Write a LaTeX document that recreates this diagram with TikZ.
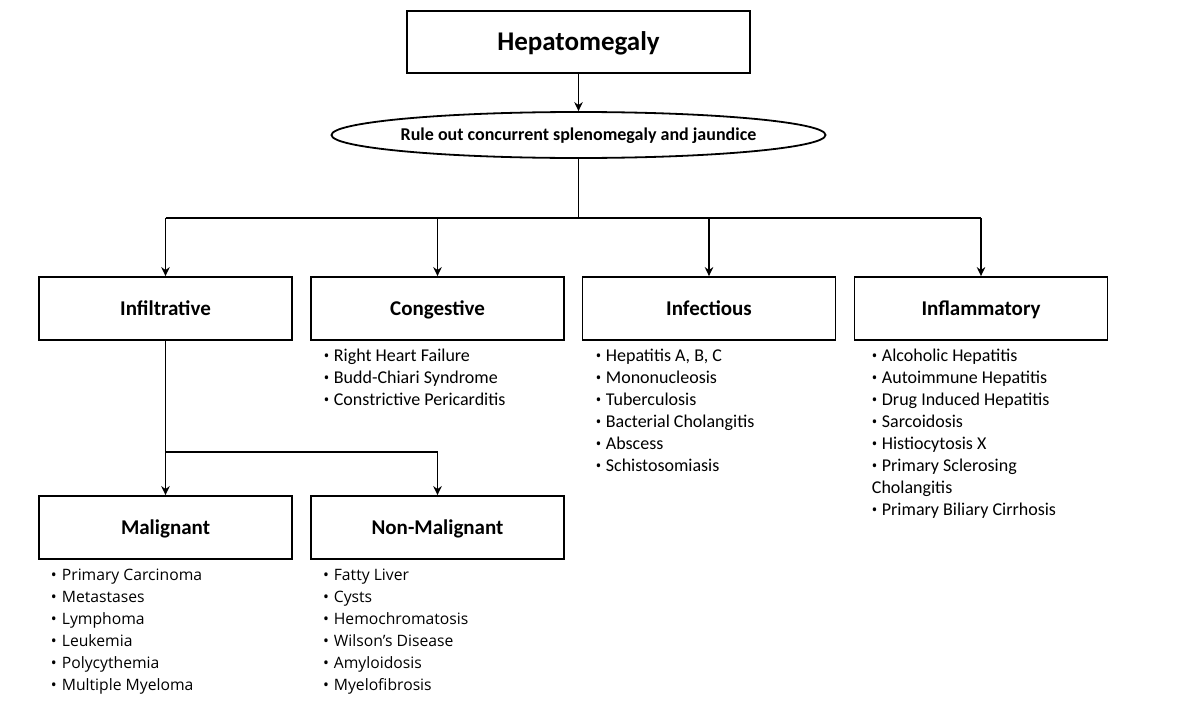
\documentclass[tikz,border=0pt]{standalone}
\usepackage{fontspec}
\setmainfont{Carlito}
\newfontfamily\lowfont{Open Sans}
\usetikzlibrary{shapes.geometric,arrows.meta}
\newcommand\mybul{\llap{{\lowfont\fontsize{15.7}{22}\selectfont •}\hspace{4.5pt}}}
\newcommand\mylowbul{\llap{•\hspace{5pt}}}
\begin{document}
\begin{tikzpicture}[x=1pt,y=-1pt,
  line width=1.8pt,
  catbox/.style={draw, line width=1.8pt, minimum width=253pt, minimum height=63pt, inner sep=0pt,
    font=\fontsize{21}{25}\selectfont\bfseries, text height=13.5pt, text depth=0pt},
  arr/.style={-{Stealth[length=9pt,width=8.5pt]}, line width=1.6pt},
  link/.style={line width=1.6pt},
  item/.style={anchor=base west, inner sep=0pt, font=\fontsize{18}{22}\selectfont},
  lowitem/.style={anchor=base west, inner sep=0pt, font=\lowfont\fontsize{15.7}{22}\selectfont},
]
\useasboundingbox (0,0) rectangle (1200,704);
\fill[white] (0,0) rectangle (1200,704);

\node[draw, line width=1.8pt, minimum width=343pt, minimum height=62pt, inner sep=0pt,
  font=\fontsize{27}{32}\selectfont\bfseries, text height=17.4pt, text depth=0pt]
  (top) at (578.5,42) {Hepatomegaly};
\node[ellipse, draw, line width=1.8pt, minimum width=494pt, minimum height=46pt, inner sep=0pt,
  font=\fontsize{18}{22}\selectfont\bfseries, text height=11.6pt, text depth=0pt]
  (rule) at (578.5,135) {\makebox[0pt][c]{Rule out concurrent splenomegaly and jaundice}};

\node[catbox] (inf)  at (165.5,308.5) {Infiltrative};
\node[catbox] (cong) at (437.5,308.5) {Congestive};
\node[catbox] (infe) at (709,308.5)   {Infectious};
\node[catbox] (infl) at (981,308.5)   {Inflammatory};
\node[catbox] (mal)    at (165.5,527.5) {Malignant};
\node[catbox] (nonmal) at (437.5,527.5) {Non-Malignant};

\coordinate (hub) at (578.5,218);
\coordinate (hub2) at (165.5,452);
\draw[arr] (top.south) -- (rule.north);
\draw[link] (rule.south) -- (hub);
\draw[link] (inf.north |- hub) -- (infl.north |- hub);
\foreach \n in {inf,cong,infe,infl}
  \draw[arr] (\n.north |- hub) -- (\n.north);
\draw[arr] (inf.south) -- (mal.north);
\draw[arr] (hub2) -| (nonmal.north);

\foreach \t [count=\i from 0] in {{Right Heart Failure},{Budd-Chiari Syndrome},{Constrictive Pericarditis}}
  \node[item] (cg\i) at (333,361+22*\i) {\mybul\t};
\foreach \t [count=\i from 0] in {{Hepatitis A, B, C},{Mononucleosis},{Tuberculosis},{Bacterial Cholangitis},{Abscess},{Schistosomiasis}}
  \node[item] (ie\i) at (605,361+22*\i) {\mybul\t};
\foreach \t [count=\i from 0] in {{Alcoholic Hepatitis},{Autoimmune Hepatitis},{Drug Induced Hepatitis},{Sarcoidosis},{Histiocytosis X},{Primary Sclerosing}}
  \node[item] (il\i) at (881,361+22*\i) {\mybul\t};
\node[item] (il6) at (871,493) {Cholangitis};
\node[item] (il7) at (881,515) {\mybul Primary Biliary Cirrhosis};

\foreach \t [count=\i from 0] in {{Primary Carcinoma},{Metastases},{Lymphoma},{Leukemia},{Polycythemia},{Multiple Myeloma}}
  \node[lowitem] (ml\i) at (61,580+22*\i) {\mylowbul\t};
\foreach \t [count=\i from 0] in {{Fatty Liver},{Cysts},{Hemochromatosis},{Wilson’s Disease},{Amyloidosis},{Myelofibrosis}}
  \node[lowitem] (nm\i) at (333,580+22*\i) {\mylowbul\t};
\end{tikzpicture}
\end{document}
